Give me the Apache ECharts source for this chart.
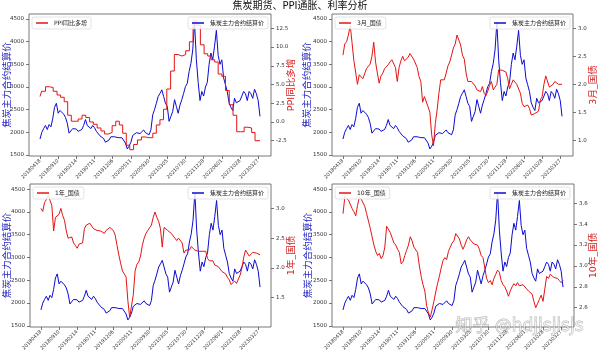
<!DOCTYPE html>
<html>
<head>
<meta charset="utf-8">
<script src="https://cdn.jsdelivr.net/npm/echarts@6/dist/echarts.min.js"></script>
<style>
html, body { margin: 0; padding: 0; background: #fff; }
#chart { width: 600px; height: 354px; }
</style>
</head>
<body>
<div id="chart"></div>
<script>
// trading-day index ticks (every 100 days)
const xTickLabels = ['20180418', '20180910', '20190214', '20190711', '20191206', '20200511', '20200930',
    '20210305', '20210730', '20211228', '20220601', '20221028', '20230327'];
const STEP = 10; // one value every 10 trading days

// 焦炭主力合约结算价
const cokePrice = [
    1850, 2000, 2080, 2150, 2060, 2170, 2120, 2300, 2550, 2640,
    2420, 2480, 2520, 2400, 2330, 2200, 1980, 2020, 2080, 2110,
    2070, 2020, 2000, 2060, 2150, 2280, 2150, 2120, 2080, 2150,
    2100, 2020, 1980, 1920, 1960, 1860, 1780, 1750, 1830, 1900,
    1880, 1900, 1870, 1880, 1860, 1880, 1850, 1760, 1630, 1690,
    1780, 1930, 1960, 1990, 2010, 1970, 1980, 2050, 1990, 2000,
    1945, 2055, 2385, 2500, 2640, 2790, 2860, 2937, 2790, 2640,
    2570, 2240, 2350, 2460, 2720, 2570, 2420, 2600, 2720, 2860,
    3010, 3080, 3340, 3520, 3820, 4430, 3600, 3100, 2700, 2900,
    2800, 3000, 3100, 3500, 3750, 3600, 3900, 4250, 3700, 3500,
    3600, 3200, 3050, 2900, 2650, 2550, 2480, 2750, 2650, 2650,
    2700, 2800, 2900, 2850, 2700, 2900, 2850, 2750, 2950, 2850,
    2700, 2350
];

// PPI同比 (monthly)
const ppiMonths = [
    '2018-04', '2018-05', '2018-06', '2018-07', '2018-08', '2018-09', '2018-10', '2018-11', '2018-12',
    '2019-01', '2019-02', '2019-03', '2019-04', '2019-05', '2019-06', '2019-07', '2019-08', '2019-09', '2019-10', '2019-11', '2019-12',
    '2020-01', '2020-02', '2020-03', '2020-04', '2020-05', '2020-06', '2020-07', '2020-08', '2020-09', '2020-10', '2020-11', '2020-12',
    '2021-01', '2021-02', '2021-03', '2021-04', '2021-05', '2021-06', '2021-07', '2021-08', '2021-09', '2021-10', '2021-11', '2021-12',
    '2022-01', '2022-02', '2022-03', '2022-04', '2022-05', '2022-06', '2022-07', '2022-08', '2022-09', '2022-10', '2022-11', '2022-12',
    '2023-01', '2023-02', '2023-03'
];
const ppiYoY = [
    3.4, 4.1, 4.7, 4.6, 4.1, 3.6, 3.3, 2.7, 0.9,
    0.1, 0.1, 0.4, 0.9, 0.6, 0.0, -0.3, -0.8, -1.2, -1.6, -1.4, -0.5,
    0.1, -0.4, -1.5, -3.1, -3.7, -3.0, -2.4, -2.0, -2.1, -2.1, -1.5, -0.4,
    0.3, 1.7, 4.4, 6.8, 9.0, 8.8, 9.0, 9.5, 10.7, 13.5, 12.9, 10.3,
    9.1, 8.8, 8.3, 8.0, 6.4, 6.1, 4.2, 2.3, 0.9, -1.3, -1.3, -0.7,
    -0.8, -1.4, -2.5
];

// 3月_国债
const bond3m = [
    2.52, 2.72, 2.76, 2.88, 3.05, 2.75, 2.43, 2.40, 2.00, 2.17,
    2.14, 2.10, 2.10, 2.28, 2.32, 2.36, 2.50, 2.75, 2.40, 2.20,
    2.02, 2.15, 2.20, 2.28, 2.30, 2.35, 2.40, 2.44, 2.46, 2.30,
    2.05, 2.30, 2.42, 2.50, 2.42, 2.42, 2.48, 2.55, 2.52, 2.45,
    2.43, 2.30, 2.14, 2.05, 1.68, 1.78, 1.75, 1.60, 1.50, 1.10,
    0.90, 1.30, 1.54, 1.84, 2.08, 2.05, 2.08, 2.20, 2.33, 2.40,
    2.52, 2.65, 2.72, 2.88, 2.90, 2.70, 2.52, 2.45, 2.20, 2.05,
    2.08, 2.05, 2.03, 1.97, 1.90, 1.92, 1.87, 1.96, 1.84, 1.80,
    1.88, 1.98, 2.05, 1.90, 1.95, 2.00, 2.26, 2.28, 2.25, 2.28,
    2.22, 2.10, 1.92, 1.95, 2.08, 2.04, 2.00, 1.97, 1.84, 1.66,
    1.60, 1.57, 1.63, 1.57, 1.45, 1.45, 1.48, 1.48, 1.52, 1.72,
    1.78, 2.00, 2.15, 2.15, 1.95, 1.92, 2.00, 2.05, 2.05, 2.00,
    2.02, 2.00
];

// 1年_国债
const bond1y = [
    3.00, 2.95, 3.10, 3.15, 3.22, 3.25, 3.05, 2.62, 2.85, 2.85,
    2.90, 3.00, 2.88, 2.80, 2.62, 2.50, 2.48, 2.52, 2.42, 2.38,
    2.33, 2.40, 2.42, 2.42, 2.66, 2.72, 2.70, 2.75, 2.72, 2.66,
    2.63, 2.63, 2.62, 2.62, 2.60, 2.58, 2.63, 2.66, 2.68, 2.66,
    2.63, 2.55, 2.38, 2.22, 2.08, 1.95, 1.90, 1.85, 1.45, 1.17,
    1.20, 1.55, 1.95, 2.06, 2.10, 2.20, 2.38, 2.50, 2.58, 2.63,
    2.66, 2.72, 2.85, 2.94, 2.85, 2.78, 2.66, 2.35, 2.68, 2.66,
    2.63, 2.62, 2.58, 2.55, 2.50, 2.46, 2.50, 2.52, 2.42, 2.25,
    2.30, 2.32, 2.30, 2.36, 2.34, 2.30, 2.28, 2.28, 2.30, 2.28,
    2.30, 2.28, 2.16, 2.12, 2.15, 2.12, 2.05, 2.02, 2.02, 1.98,
    1.94, 1.96, 1.90, 1.84, 1.80, 1.72, 1.74, 1.78, 1.74, 1.76,
    1.88, 2.00, 2.18, 2.30, 2.28, 2.20, 2.22, 2.26, 2.28, 2.25,
    2.25, 2.22
];

// 10年_国债
const bond10y = [
    3.50, 3.66, 3.65, 3.63, 3.62, 3.55, 3.52, 3.48, 3.58, 3.66,
    3.64, 3.65, 3.57, 3.50, 3.43, 3.36, 3.28, 3.20, 3.14, 3.10,
    3.12, 3.07, 3.10, 3.18, 3.38, 3.38, 3.32, 3.31, 3.22, 3.20,
    3.16, 3.13, 3.02, 3.04, 3.10, 3.15, 3.20, 3.28, 3.24, 3.18,
    3.17, 3.13, 3.00, 2.90, 2.82, 2.76, 2.62, 2.55, 2.51, 2.58,
    2.66, 2.75, 2.83, 2.90, 2.98, 3.05, 3.08, 3.06, 3.14, 3.18,
    3.22, 3.24, 3.31, 3.30, 3.26, 3.20, 3.16, 3.20, 3.25, 3.28,
    3.25, 3.24, 3.21, 3.22, 3.20, 3.16, 3.10, 3.08, 2.98, 2.88,
    2.84, 2.86, 2.82, 2.88, 2.92, 2.96, 2.94, 2.86, 2.82, 2.80,
    2.76, 2.71, 2.76, 2.80, 2.83, 2.81, 2.84, 2.81, 2.80, 2.82,
    2.81, 2.78, 2.76, 2.75, 2.73, 2.66, 2.60, 2.64, 2.68, 2.72,
    2.66, 2.78, 2.90, 2.88, 2.92, 2.91, 2.89, 2.88, 2.88, 2.86,
    2.84, 2.86
];

const priceTicks = [1500, 2000, 2500, 3000, 3500, 4000, 4500];
const ppiTicks = [-2.5, 0, 2.5, 5, 7.5, 10, 12.5];
const bond3mTicks = [1.0, 1.5, 2.0, 2.5, 3.0];
const bond1yTicks = [1.5, 2.0, 2.5, 3.0];
const bond10yTicks = [2.6, 2.8, 3.0, 3.2, 3.4, 3.6];

const BLUE = '#0b0bd2';
const RED = '#e41414';
const FONT = '"DejaVu Sans", "Noto Sans CJK SC", sans-serif';
const priceName = '焦炭主力合约结算价';

// month start -> trading-day position, using the tick dates as anchors
const anchorTimes = xTickLabels.map(s => Date.UTC(+s.slice(0, 4), +s.slice(4, 6) - 1, +s.slice(6, 8)));
function monthToIdx(m) {
    const t = Date.UTC(+m.slice(0, 4), +m.slice(5, 7) - 1, 1);
    let k = 0;
    while (k < anchorTimes.length - 2 && t > anchorTimes[k + 1]) k++;
    const idx = 100 * k + 100 * (t - anchorTimes[k]) / (anchorTimes[k + 1] - anchorTimes[k]);
    return Math.max(0, idx);
}

const lastIdx = (cokePrice.length - 1) * STEP;
const toPoints = arr => arr.map((v, i) => [i * STEP, v]);
const ppiPoints = ppiMonths.map((m, i) => [monthToIdx(m), ppiYoY[i]]);
ppiPoints.push([lastIdx, ppiYoY[ppiYoY.length - 1]]);

const xTickIdx = xTickLabels.map((_, i) => i * 100);

const panels = [
    { name: 'PPI同比多增', data: ppiPoints, step: 'end', ticks: ppiTicks, rMin: -4.54, rMax: 14.41, lGap: 17, rGap: 16,
      grid: { left: 29, top: 14, width: 242, height: 142 }, legL: { left: 32, top: 17 }, legR: { right: 332, top: 17 } },
    { name: '3月_国债', data: toPoints(bond3m), step: false, ticks: bond3mTicks, rMin: 0.72, rMax: 3.255, lGap: 20, rGap: 16,
      grid: { left: 332, top: 14, width: 241, height: 142 }, legL: { left: 335, top: 17 }, legR: { right: 30, top: 17 } },
    { name: '1年_国债', data: toPoints(bond1y), step: false, ticks: bond1yTicks, rMin: 1.008, rMax: 3.41, lGap: 18, rGap: 16,
      grid: { left: 30, top: 184, width: 241, height: 143 }, legL: { left: 33, top: 187 }, legR: { right: 332, top: 187 } },
    { name: '10年_国债', data: toPoints(bond10y), step: false, ticks: bond10yTicks, rMin: 2.415, rMax: 3.785, lGap: 19, rGap: 15,
      grid: { left: 332, top: 184, width: 242, height: 143 }, legL: { left: 335, top: 187 }, legR: { right: 30, top: 187 } }
];

const chart = echarts.init(document.getElementById('chart'));

const legendBase = {
    orient: 'horizontal',
    icon: 'rect',
    itemWidth: 12,
    itemHeight: 1.5,
    itemGap: 0,
    padding: [3, 4, 3, 4],
    backgroundColor: 'rgba(255,255,255,0.85)',
    borderColor: '#d0d0d0',
    borderWidth: 0.6,
    borderRadius: 2,
    selectedMode: false,
    textStyle: { fontSize: 6, color: '#222', fontFamily: FONT, padding: [0, 0, 0, 1] }
};
const tickLabel = { fontSize: 5.5, color: '#333', fontFamily: FONT };
const tickLine = { color: '#555', width: 0.8 };

const option = {
    animation: false,
    backgroundColor: '#fff',
    title: {
        text: '焦炭期货、PPI通胀、利率分析',
        left: 'center',
        top: 1,
        padding: 0,
        textStyle: { fontSize: 10, fontWeight: 'normal', color: '#111', fontFamily: FONT }
    },
    grid: [],
    xAxis: [],
    yAxis: [],
    legend: [],
    series: [],
    graphic: [{
        type: 'text',
        left: 455,
        top: 318,
        z: 100,
        style: {
            text: '知乎 @hdjisjisjs',
            fontSize: 17,
            fontFamily: FONT,
            fill: 'rgba(255,255,255,0.55)',
            stroke: 'rgba(110,110,110,0.55)',
            lineWidth: 0.8
        }
    }]
};

panels.forEach((p, i) => {
    option.grid.push(Object.assign({ show: true, borderColor: '#555', borderWidth: 0.8, backgroundColor: '#fff' }, p.grid));
    option.xAxis.push({
        type: 'value', gridIndex: i, min: -60.5, max: lastIdx + 60.5,
        axisLine: { show: false, onZero: false }, splitLine: { show: false },
        axisTick: { customValues: xTickIdx, length: 3, lineStyle: tickLine },
        axisLabel: Object.assign({ customValues: xTickIdx, rotate: 45, margin: 4,
            formatter: v => xTickLabels[Math.round(v / 100)] }, tickLabel, { fontSize: 5 })
    });
    option.yAxis.push({
        type: 'value', gridIndex: i, position: 'left', min: 1475, max: 4612,
        name: priceName, nameLocation: 'middle', nameRotate: 90, nameGap: p.lGap, nameMoveOverlap: false,
        nameTextStyle: { color: '#2424c4', fontSize: 9.5, fontFamily: FONT },
        axisLine: { show: false, onZero: false }, splitLine: { show: false },
        axisTick: { customValues: priceTicks, length: 3, lineStyle: tickLine },
        axisLabel: Object.assign({ customValues: priceTicks, margin: 5, formatter: v => String(v) }, tickLabel)
    });
    option.yAxis.push({
        type: 'value', gridIndex: i, position: 'right', min: p.rMin, max: p.rMax,
        name: p.name, nameLocation: 'middle', nameRotate: 90, nameGap: p.rGap, nameMoveOverlap: false,
        nameTextStyle: { color: '#d42222', fontSize: 9.5, fontFamily: FONT },
        axisLine: { show: false, onZero: false }, splitLine: { show: false },
        axisTick: { customValues: p.ticks, length: 3, lineStyle: tickLine },
        axisLabel: Object.assign({ customValues: p.ticks, margin: 5, formatter: v => v.toFixed(1) }, tickLabel)
    });
    option.series.push({
        name: priceName, type: 'line', xAxisIndex: i, yAxisIndex: 2 * i,
        data: toPoints(cokePrice), showSymbol: false, z: 2,
        lineStyle: { color: BLUE, width: 1 }, itemStyle: { color: BLUE }
    });
    option.series.push({
        name: p.name, type: 'line', xAxisIndex: i, yAxisIndex: 2 * i + 1,
        data: p.data, step: p.step, showSymbol: false, z: 3,
        lineStyle: { color: RED, width: 1 }, itemStyle: { color: RED }
    });
    option.legend.push(Object.assign({}, legendBase, p.legL, { data: [p.name], z: 10 }));
    option.legend.push(Object.assign({}, legendBase, p.legR, { data: [priceName], z: 10 }));
});

chart.setOption(option);
window.addEventListener('resize', () => chart.resize());
</script>
</body>
</html>
